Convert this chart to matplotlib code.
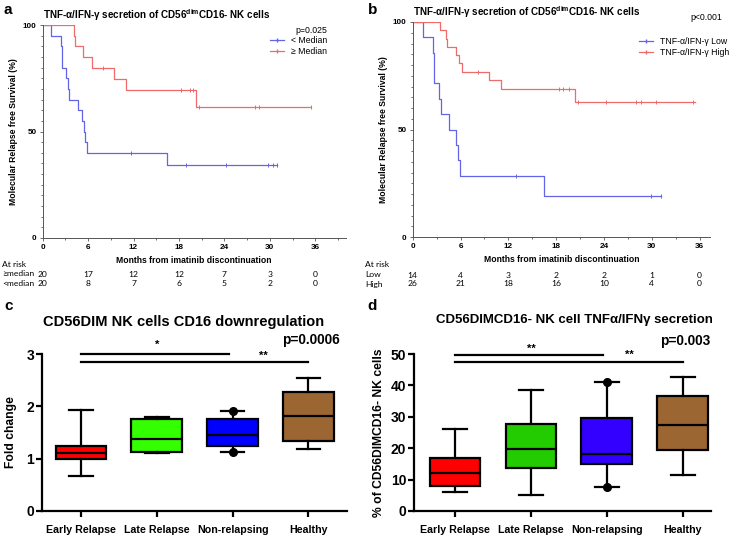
import matplotlib
matplotlib.use("Agg")
import matplotlib.pyplot as plt
import numpy as np
from matplotlib.lines import Line2D
from matplotlib.ticker import MultipleLocator

plt.rcParams["font.family"] = ["Liberation Sans", "DejaVu Sans"]
plt.rcParams["mathtext.fontset"] = "custom"
plt.rcParams["mathtext.rm"] = "Liberation Sans"
plt.rcParams["mathtext.bf"] = "Liberation Sans:bold"

W, H = 733, 535

# ---- panel a: Kaplan-Meier, < / >= median ----
a_low_t = [0, 1.1, 2.41, 2.54, 3.03, 3.29, 3.51, 4.6, 5.18, 5.39, 5.61, 5.83, 16.4, 31.0]
a_low_s = [100, 95, 90, 80, 75, 70, 65, 60, 55, 50, 45, 40, 34.3, 34.3]
a_low_cens = [11.7, 18.9, 24.2, 29.8, 30.4, 31.0]
a_high_t = [0, 4.17, 4.3, 5.35, 6.45, 9.4, 11.05, 20.3, 35.5]
a_high_s = [100, 95, 90, 85, 80, 74.7, 69.3, 61.6, 61.6]
a_high_cens = [8.0, 18.3, 19.5, 19.9, 20.7, 28.0, 28.6, 35.4]

# ---- panel b: Kaplan-Meier, Low / High ----
b_low_t = [0, 1.26, 2.6, 2.7, 3.26, 3.6, 4.6, 5.4, 5.65, 5.9, 16.5, 31.1]
b_low_s = [100, 92.9, 85.7, 71.4, 64.3, 57.1, 50, 42.9, 35.7, 28.6, 19.0, 19.0]
b_low_cens = [13.0, 29.9, 31.1]
b_high_t = [0, 3.43, 4.14, 4.35, 5.4, 5.86, 6.15, 9.58, 11.09, 20.3, 35.4]
b_high_s = [100, 96.2, 92.3, 88.5, 84.6, 80.8, 76.9, 73.0, 68.7, 63.0, 63.0]
b_high_cens = [8.2, 18.4, 18.9, 19.6, 20.7, 24.3, 28.0, 28.7, 30.5, 35.2]

risk_times = [0, 6, 12, 18, 24, 30, 36]
a_risk_rows = ["≥median", "<median"]
a_risk_high = [20, 17, 12, 12, 7, 3, 0]
a_risk_low = [20, 8, 7, 6, 5, 2, 0]
b_risk_rows = ["Low", "High"]
b_risk_low = [14, 4, 3, 2, 2, 1, 0]
b_risk_high = [26, 21, 18, 16, 10, 4, 0]

# ---- panels c/d: box plots ----
groups = ["Early Relapse", "Late Relapse", "Non-relapsing", "Healthy"]
c_whislo = [0.67, 1.11, 1.12, 1.19]
c_q1 = [1.00, 1.12, 1.24, 1.33]
c_med = [1.10, 1.385, 1.455, 1.81]
c_q3 = [1.245, 1.755, 1.76, 2.28]
c_whishi = [1.93, 1.79, 1.91, 2.55]
c_dots = [[], [], [1.12, 1.91], []]

d_whislo = [6.1, 5.0, 7.6, 11.5]
d_q1 = [7.9, 13.6, 15.0, 19.4]
d_med = [12.1, 19.7, 18.1, 27.4]
d_q3 = [16.8, 27.8, 29.7, 36.7]
d_whishi = [26.2, 38.6, 41.1, 42.6]
d_dots = [[], [], [7.6, 41.2], []]

BLUE = "#6464e8"
RED = "#ef6a6a"
c_colors = ["#ff0000", "#33ff00", "#0000ff", "#9c6633"]
d_colors = ["#ff0000", "#22cc00", "#3300ff", "#9c6633"]
RISK_FONT = ["Lato", "DejaVu Sans"]


def px_axes(fig, left, top, right, bottom):
    return fig.add_axes([left / W, 1 - bottom / H, (right - left) / W, (bottom - top) / H])


def surv_at(times, surv, t):
    idx = np.searchsorted(times, t, side="right") - 1
    return np.asarray(surv)[idx]


def km_panel(ax, curves, xmax, title):
    for t, s, cens, col in curves:
        ax.step(t, s, where="post", color=col, lw=0.9)
        ax.plot(cens, [surv_at(t, s, c) for c in cens], ls="none",
                marker="|", ms=2.5, mew=0.7, color=col)
    ax.set_xlim(0, xmax)
    ax.set_ylim(0, 100)
    for sp in ["top", "right"]:
        ax.spines[sp].set_visible(False)
    for sp in ["left", "bottom"]:
        ax.spines[sp].set_color("#555555")
        ax.spines[sp].set_linewidth(0.7)
    ax.set_xticks(risk_times)
    ax.xaxis.set_minor_locator(MultipleLocator(3))
    ax.set_yticks([0, 50, 100])
    ax.yaxis.set_minor_locator(MultipleLocator(5))
    ax.tick_params(which="both", color="#555555", width=0.6, labelsize=5.9, pad=2)
    ax.tick_params(which="major", length=2.5)
    ax.tick_params(which="minor", length=1.2)
    for lab in ax.get_xticklabels() + ax.get_yticklabels():
        lab.set_fontweight("bold")
    ax.set_xlabel("Months from imatinib discontinuation", fontsize=6.2,
                  fontweight="bold", labelpad=3.5)
    ax.set_ylabel("Molecular Relapse free Survival (%)", fontsize=6.2,
                  fontweight="bold", labelpad=3.5)
    ax.set_title(title, fontsize=7.1, fontweight="bold", loc="left", pad=4)


def risk_table(fig, ax, x_left, rows, values, y_rows, y_head):
    fig.text(x_left / W, 1 - y_head / H, "At risk", fontsize=6.1,
             family=RISK_FONT, va="center")
    trans = ax.get_xaxis_transform()
    for name, vals, y in zip(rows, values, y_rows):
        fig.text(x_left / W, 1 - y / H, name, fontsize=6.1, family=RISK_FONT, va="center")
        yy = ax.transAxes.inverted().transform(fig.transFigure.transform((0, 1 - y / H)))[1]
        for t, v in zip(risk_times, vals):
            ax.text(t, yy, str(v), transform=trans, fontsize=6.1, ha="center",
                    va="center", family=RISK_FONT, clip_on=False)


def box_panel(ax, whislo, q1, med, q3, whishi, dots, colors, ymax, yticks):
    stats = []
    for i in range(len(groups)):
        stats.append(dict(whislo=whislo[i], q1=q1[i], med=med[i], q3=q3[i],
                          whishi=whishi[i], fliers=dots[i], label=groups[i]))
    bp = ax.bxp(stats, positions=range(len(groups)), widths=0.67, patch_artist=True,
                showfliers=True,
                boxprops=dict(lw=1.6, edgecolor="black"),
                medianprops=dict(lw=1.6, color="black"),
                whiskerprops=dict(lw=1.6, color="black"),
                capprops=dict(lw=1.6, color="black"),
                flierprops=dict(marker="o", ms=5.5, mfc="black", mec="black"))
    for patch, col in zip(bp["boxes"], colors):
        patch.set_facecolor(col)
    for cap in bp["caps"]:
        c = np.mean(cap.get_xdata())
        cap.set_xdata([c - 0.155, c + 0.155])
    ax.set_ylim(0, ymax)
    ax.set_yticks(yticks)
    for sp in ["top", "right"]:
        ax.spines[sp].set_visible(False)
    for sp in ["left", "bottom"]:
        ax.spines[sp].set_linewidth(1.6)
    ax.tick_params(axis="y", length=4, width=1.6, labelsize=10, pad=1.5)
    ax.tick_params(axis="x", length=4, width=1.6, labelsize=7.7, pad=6)
    for lab in ax.get_xticklabels() + ax.get_yticklabels():
        lab.set_fontweight("bold")


def sig_lines(ax, y1, y2, star1, star2, s1xy, s2xy):
    ax.plot([0, 1.95], [y1, y1], color="black", lw=1.6, clip_on=False)
    ax.plot([0, 3.0], [y2, y2], color="black", lw=1.6, clip_on=False)
    ax.text(s1xy[0], s1xy[1], star1, ha="center", va="center", fontsize=8,
            fontweight="bold", clip_on=False)
    ax.text(s2xy[0], s2xy[1], star2, ha="center", va="center", fontsize=8,
            fontweight="bold", clip_on=False)


def main():
    fig = plt.figure(figsize=(W / 100, H / 100), dpi=100)

    # panel a
    ax_a = px_axes(fig, 42.7, 25, 345.5, 238)
    km_panel(ax_a, [(a_low_t, a_low_s, a_low_cens, BLUE),
                    (a_high_t, a_high_s, a_high_cens, RED)], 40,
             "TNF-α/IFN-γ secretion of CD56$^{\\mathbf{dim}}$CD16- NK cells")
    ax_a.text(0.94, 0.975, "p=0.025", transform=ax_a.transAxes, ha="right",
              va="center", fontsize=6.3)
    h = [Line2D([], [], color=BLUE, marker="|", ms=2.5, lw=0.9),
         Line2D([], [], color=RED, marker="|", ms=2.5, lw=0.9)]
    ax_a.legend(h, ["< Median", "≥ Median"], loc="upper left",
                bbox_to_anchor=(0.75, 0.95), frameon=False, fontsize=6.3,
                handlelength=1.6, handletextpad=0.8, labelspacing=0.25,
                borderpad=0, borderaxespad=0, numpoints=1)
    risk_table(fig, ax_a, 2, a_risk_rows, [a_risk_high, a_risk_low], [274, 283], 265)

    # panel b
    ax_b = px_axes(fig, 412.7, 22, 710, 237)
    km_panel(ax_b, [(b_low_t, b_low_s, b_low_cens, BLUE),
                    (b_high_t, b_high_s, b_high_cens, RED)], 37.3,
             "TNF-α/IFN-γ secretion of CD56$^{\\mathbf{dim}}$CD16- NK cells")
    ax_b.text(1.04, 1.02, "p<0.001", transform=ax_b.transAxes, ha="right",
              va="center", fontsize=6.3)
    ax_b.legend(h, ["TNF-α/IFN-γ Low", "TNF-α/IFN-γ High"], loc="upper left",
                bbox_to_anchor=(0.76, 0.93), frameon=False, fontsize=6.3,
                handlelength=1.6, handletextpad=0.8, labelspacing=0.25,
                borderpad=0, borderaxespad=0, numpoints=1)
    risk_table(fig, ax_b, 365, b_risk_rows, [b_risk_low, b_risk_high], [275, 284], 265)

    # panel c
    ax_c = px_axes(fig, 41.7, 354, 347, 511)
    box_panel(ax_c, c_whislo, c_q1, c_med, c_q3, c_whishi, c_dots, c_colors, 3, [0, 1, 2, 3])
    ax_c.set_xlim(-0.52, 3.51)
    ax_c.set_ylabel("Fold change", fontsize=8.7, fontweight="bold", labelpad=7)
    sig_lines(ax_c, 3.0, 2.85, "*", "**", (1.0, 3.17), (2.4, 2.97))

    # panel d
    ax_d = px_axes(fig, 414, 354, 711, 511)
    box_panel(ax_d, d_whislo, d_q1, d_med, d_q3, d_whishi, d_dots, d_colors, 50,
              [0, 10, 20, 30, 40, 50])
    ax_d.set_xlim(-0.54, 3.37)
    ax_d.set_ylabel("% of CD56DIMCD16- NK cells", fontsize=8.7, fontweight="bold", labelpad=4)
    sig_lines(ax_d, 49.6, 47.4, "**", "**", (1.0, 51.8), (2.3, 49.6))

    fig.text(184 / W, 1 - 322 / H, "CD56DIM NK cells CD16 downregulation", ha="center",
             va="center", fontsize=10.5, fontweight="bold")
    fig.text(340 / W, 1 - 340 / H, "p=0.0006", ha="right", va="center", fontsize=9.8,
             fontweight="bold")
    fig.text(574 / W, 1 - 320 / H, "CD56DIMCD16- NK cell TNFα/IFNγ secretion", ha="center",
             va="center", fontsize=9.5, fontweight="bold")
    fig.text(710 / W, 1 - 341 / H, "p=0.003", ha="right", va="center", fontsize=9.8,
             fontweight="bold")

    for lab, x, y in [("a", 4, 10), ("b", 368, 10), ("c", 4, 306), ("d", 367, 306)]:
        fig.text(x / W, 1 - y / H, lab, fontsize=11, fontweight="bold", va="center")

    fig.savefig("out.png", dpi=100)


if __name__ == "__main__":
    main()
